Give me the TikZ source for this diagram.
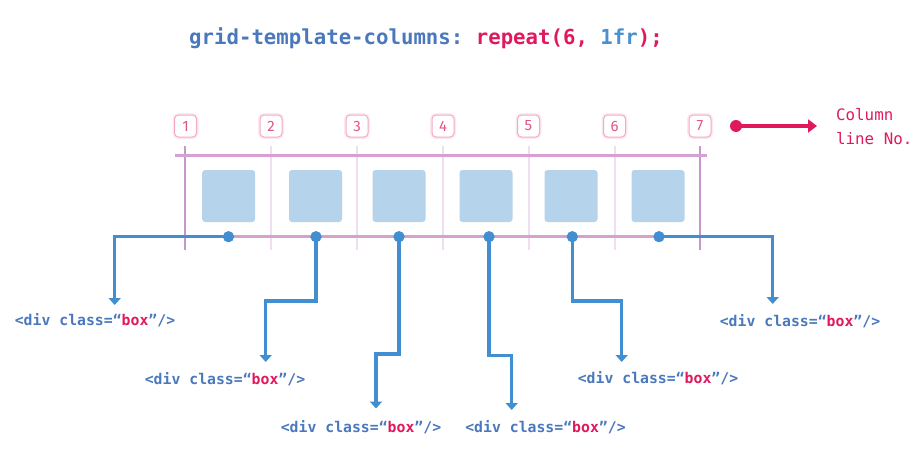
\documentclass[tikz,border=0pt]{standalone}
\usepackage{fontspec}
\setmainfont{DejaVu Sans}
\setmonofont{DejaVu Sans Mono}
\newfontfamily\numfont{Fira Sans}
\usetikzlibrary{arrows.meta}
\definecolor{cblue}{HTML}{4A78BD}
\definecolor{cred}{HTML}{E0195F}
\definecolor{clblue}{HTML}{4A90D0}
\definecolor{conn}{HTML}{418FD1}
\definecolor{boxfill}{HTML}{B5D3EA}
\definecolor{hline}{HTML}{D6A0D2}
\definecolor{outerline}{HTML}{C796CB}
\definecolor{innerline}{HTML}{F1DDF0}
\definecolor{numpink}{HTML}{E2577F}
\definecolor{numedge}{HTML}{F5A9C2}
\begin{document}
\begin{tikzpicture}[x=1pt,y=-1pt,
  numbox/.style={draw=numedge,line width=1pt,fill=white,rounded corners=4pt,
    minimum size=22pt,inner sep=0pt,text=numpink,font=\numfont\fontsize{15}{17}\selectfont,
    preaction={draw=numedge,line width=4pt,opacity=0.25}},
  gridbox/.style={fill=boxfill,rounded corners=3pt,minimum width=53pt,minimum height=52pt,inner sep=0pt},
  bluedot/.style={circle,fill=conn,minimum size=11pt,inner sep=0pt},
  reddot/.style={circle,fill=cred,minimum size=12pt,inner sep=0pt},
  connline/.style={draw=conn,line width=3.5pt,-{Triangle[width=12pt,length=7pt]}},
  redline/.style={draw=cred,line width=3.5pt,-{Triangle[width=13pt,length=9pt]}},
  lbl/.style={font=\ttfamily\bfseries\fontsize{14.8}{17}\selectfont,text=cblue,inner sep=0pt},
  outerl/.style={draw=outerline,line width=2pt},
  innerl/.style={draw=innerline,line width=2pt},
  hl/.style={draw=hline,line width=2.5pt}
]
\useasboundingbox (0,0) rectangle (914,450);

% title
\node[font=\ttfamily\bfseries\fontsize{20.7}{24}\selectfont,inner sep=0pt] (title) at (426,38)
  {\textcolor{cblue}{grid-template-columns:} \textcolor{cred}{repeat(6,} \textcolor{clblue}{1fr}\textcolor{cred}{);}};

% column lines
\foreach \i/\x in {1/185,2/271,3/357,4/443,5/528.5,6/614.5,7/700}{
  \coordinate (vt\i) at (\x,146);
  \coordinate (vb\i) at (\x,250);
}
\draw[outerl] (vt1) -- (vb1);
\draw[outerl] (vt7) -- (vb7);
\foreach \i in {2,...,6}{\draw[innerl] (vt\i) -- (vb\i);}

% horizontal lines
\coordinate (hl1) at (175,155.7);
\coordinate (hr1) at (706.7,155.7);
\coordinate (hl2) at (175,236.7);
\coordinate (hr2) at (706.7,236.7);
\draw[hl] (hl1) -- (hr1);
\draw[hl] (hl2) -- (hr2);

% number boxes
\foreach \i/\x in {1/185.5,2/271,3/357,4/443,5/528.5,6/614.5,7/700}{
  \node[numbox] (n\i) at (\x,126) {\i};
}

% grid boxes
\node[gridbox] (b1) at (228.7,196) {};
\node[gridbox] (b2) at (315.5,196) {};
\node[gridbox] (b3) at (399,196) {};
\node[gridbox] (b4) at (486,196) {};
\node[gridbox] (b5) at (571,196) {};
\node[gridbox] (b6) at (658,196) {};

% dots
\node[bluedot] (d1) at (228.5,236.7) {};
\node[bluedot] (d2) at (316,236.7) {};
\node[bluedot] (d3) at (399,236.7) {};
\node[bluedot] (d4) at (489,236.7) {};
\node[bluedot] (d5) at (572.3,236.7) {};
\node[bluedot] (d6) at (659,236.7) {};

% connector coordinates
\coordinate (t1) at (114.7,305);
\coordinate (k2) at (265.7,301);   \coordinate (t2) at (265.7,362);
\coordinate (k3) at (376,354);     \coordinate (t3) at (376,408.5);
\coordinate (k4) at (511.7,355.7); \coordinate (t4) at (511.7,410);
\coordinate (k5) at (621.7,301);   \coordinate (t5) at (621.7,362);
\coordinate (t6) at (772.7,304);

\draw[connline] (d1.center) -| (t1);
\draw[connline] (d2.center) |- (k2) -- (t2);
\draw[connline] (d3.center) |- (k3) -- (t3);
\draw[connline] (d4.center) |- (k4) -- (t4);
\draw[connline] (d5.center) |- (k5) -- (t5);
\draw[connline] (d6.center) -| (t6);

% redraw dots on top
\foreach \i in {1,...,6}{\fill[conn] (d\i) circle (5.5pt);}

% labels
\newcommand{\divbox}{<div class=“\textcolor{cred}{box}”/>}
\node[lbl] (l1) at (95,320.5) {\divbox};
\node[lbl] (l2) at (225,379) {\divbox};
\node[lbl] (l3) at (361,427) {\divbox};
\node[lbl] (l4) at (545.5,427) {\divbox};
\node[lbl] (l5) at (658,378) {\divbox};
\node[lbl] (l6) at (800,320.7) {\divbox};

% legend arrow
\node[reddot] (rd) at (736,126) {};
\coordinate (rt) at (817,126);
\draw[redline] (rd.center) -- (rt);
\node[anchor=west,align=left,inner sep=0pt,text=cred,
  font=\ttfamily\fontsize{15.8}{24}\selectfont] (colt) at (836,127) {Column\\line No.};
\end{tikzpicture}
\end{document}
